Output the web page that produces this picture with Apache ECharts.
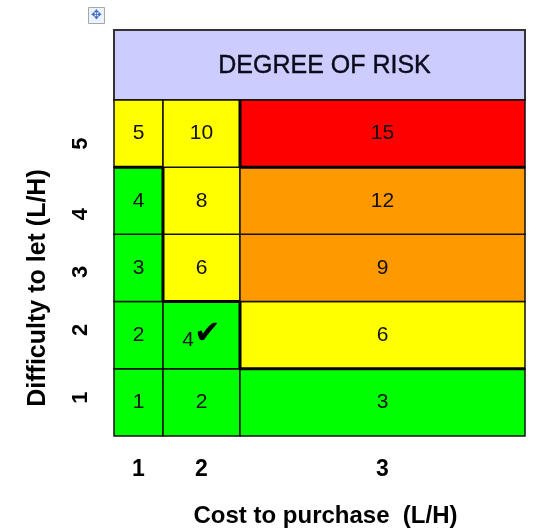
<!DOCTYPE html>
<html>
<head>
<meta charset="utf-8">
<script src="https://cdn.jsdelivr.net/npm/echarts@6/dist/echarts.min.js"></script>
<style>
  html, body { margin: 0; padding: 0; background: #fff; }
  #chart { width: 536px; height: 530px; }
</style>
</head>
<body>
<div id="chart"></div>
<script>
// axis categories
const costLabels = ['1', '2', '3']
const difficultyLabels = ['1', '2', '3', '4', '5']
// risk score per cell, rows = difficulty 1..5, cols = cost 1..3
const riskScores = [
  [1, 2, 3],
  [2, 4, 6],
  [3, 6, 9],
  [4, 8, 12],
  [5, 10, 15]
]
// risk band per cell, same layout
const riskBands = [
  ['low', 'low', 'low'],
  ['low', 'low', 'medium'],
  ['low', 'medium', 'high'],
  ['low', 'medium', 'high'],
  ['medium', 'medium', 'severe']
]
// ticked cell: [cost index, difficulty index]
const selectedCell = [1, 1]
const headerText = 'DEGREE OF RISK'

const bandColors = { low: '#00ff00', medium: '#ffff00', high: '#ff9900', severe: '#ff0000' }
// column edges in x-axis units (columns are not equally wide)
const colEdges = [0, 49, 126, 411]
const colCenters = colEdges.slice(0, -1).map((e, i) => (e + colEdges[i + 1]) / 2)
// the y tick labels in the original sit a bit off the row centres
const yLabelSpots = [0.57, 1.58, 2.44, 3.3, 4.35]
const headerTop = 6.04

const cells = []
riskScores.forEach((row, r) => row.forEach((v, c) => cells.push([c, r, v])))

const cellBox = (api, c, r, r2) => {
  const p0 = api.coord([colEdges[c], r])
  const p1 = api.coord([colEdges[c + 1], r2])
  return { x: p0[0], y: p1[1], width: p1[0] - p0[0], height: p0[1] - p1[1] }
}
// medium/high share a thin line, every other band change gets a heavy one
const heavyEdge = (a, b) => a !== b && !(a === 'medium' && b === 'high') && !(a === 'high' && b === 'medium')

const chart = echarts.init(document.getElementById('chart'))
const option = {
  animation: false,
  grid: { left: 114, right: 11, top: 30, bottom: 94, outerBoundsMode: 'none' },
  xAxis: {
    type: 'value',
    min: 0,
    max: colEdges[colEdges.length - 1],
    splitLine: { show: false },
    axisLine: { show: false },
    axisTick: { show: false },
    axisLabel: {
      customValues: colCenters,
      formatter: v => costLabels[colCenters.indexOf(v)],
      margin: 22,
      fontFamily: 'Liberation Sans',
      fontWeight: 'bold',
      fontSize: 23,
      color: '#000'
    },
    name: 'Cost to purchase  (L/H)',
    nameLocation: 'middle',
    nameGap: 68,
    nameTextStyle: { fontFamily: 'Liberation Sans', fontWeight: 'bold', fontSize: 24, color: '#000', padding: [0, 0, 0, 12] }
  },
  yAxis: {
    type: 'value',
    min: 0,
    max: headerTop,
    splitLine: { show: false },
    axisLine: { show: false },
    axisTick: { show: false },
    axisLabel: {
      customValues: yLabelSpots,
      formatter: v => difficultyLabels[yLabelSpots.indexOf(v)],
      rotate: 90,
      margin: 22,
      fontFamily: 'Liberation Sans',
      fontWeight: 'bold',
      fontSize: 22,
      color: '#000'
    },
    name: 'Difficulty to let (L/H)',
    nameLocation: 'middle',
    nameGap: 63,
    nameTextStyle: { fontFamily: 'Liberation Sans', fontWeight: 'bold', fontSize: 25, color: '#000', padding: [0, 110, 0, 0] }
  },
  graphic: [{
    type: 'group',
    left: 88,
    top: 7,
    children: [
      { type: 'rect', shape: { x: 0, y: 0, width: 16, height: 16 }, style: { fill: '#eef2f8', stroke: '#a0a8b8', lineWidth: 1 } },
      { type: 'text', style: { text: '✥', x: 8, y: 8, align: 'center', verticalAlign: 'middle', fontSize: 13, fill: '#3b6fc8' } }
    ]
  }],
  series: [
    {
      // header band across the top
      type: 'custom',
      data: [[0, 5]],
      renderItem: (params, api) => {
        const p0 = api.coord([0, 5])
        const p1 = api.coord([colEdges[colEdges.length - 1], headerTop])
        return {
          type: 'group',
          children: [
            { type: 'rect', shape: { x: p0[0], y: p1[1], width: p1[0] - p0[0], height: p0[1] - p1[1] }, style: { fill: '#ccccff', stroke: '#333', lineWidth: 2 } },
            { type: 'text', style: { text: headerText, x: (p0[0] + p1[0]) / 2 + 5, y: (p0[1] + p1[1]) / 2 + 1, align: 'center', verticalAlign: 'middle', fontFamily: 'Liberation Sans', fontSize: 25, fill: '#0a0a1a', stroke: '#0a0a1a', lineWidth: 0.4 } }
          ]
        }
      }
    },
    {
      // risk cells
      type: 'custom',
      data: cells,
      renderItem: (params, api) => {
        const c = api.value(0), r = api.value(1), v = api.value(2)
        const box = cellBox(api, c, r, r + 1)
        const ticked = c === selectedCell[0] && r === selectedCell[1]
        return {
          type: 'group',
          children: [
            { type: 'rect', shape: box, style: { fill: bandColors[riskBands[r][c]], stroke: '#111', lineWidth: 1.5 } },
            {
              type: 'text',
              style: {
                text: ticked ? '{n|' + v + '}{c|✔}' : String(v),
                x: box.x + box.width / 2,
                y: box.y + box.height / 2,
                align: 'center',
                verticalAlign: 'middle',
                fontFamily: 'Liberation Sans',
                fontSize: 21,
                fill: '#111',
                rich: {
                  n: { fontFamily: 'Liberation Sans', fontSize: 21, fill: '#111', padding: [10, 0, 0, 0] },
                  c: { fontFamily: 'DejaVu Sans', fontSize: 32, fill: '#000' }
                }
              }
            }
          ]
        }
      }
    },
    {
      // heavy lines where the risk band changes
      type: 'custom',
      data: cells,
      z: 5,
      renderItem: (params, api) => {
        const c = api.value(0), r = api.value(1)
        const box = cellBox(api, c, r, r + 1)
        const lines = []
        const band = riskBands[r][c]
        if (c < costLabels.length - 1 && heavyEdge(band, riskBands[r][c + 1])) {
          lines.push({ type: 'line', shape: { x1: box.x + box.width, y1: box.y, x2: box.x + box.width, y2: box.y + box.height }, style: { stroke: '#000', lineWidth: 3 } })
        }
        if (r < difficultyLabels.length - 1 && heavyEdge(band, riskBands[r + 1][c])) {
          lines.push({ type: 'line', shape: { x1: box.x, y1: box.y, x2: box.x + box.width, y2: box.y }, style: { stroke: '#000', lineWidth: 3 } })
        }
        return { type: 'group', children: lines }
      }
    }
  ]
}
chart.setOption(option)
</script>
</body>
</html>
